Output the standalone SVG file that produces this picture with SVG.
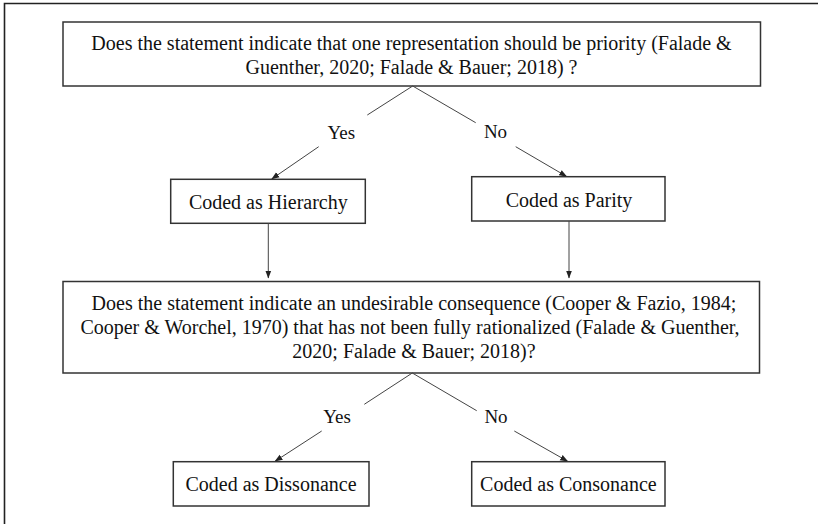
<svg xmlns="http://www.w3.org/2000/svg" width="818" height="524" viewBox="0 0 818 524">
<defs>
<style>
.box{fill:#fff;stroke:#333;stroke-width:1.5}
.t{font-size:20px;fill:#111;text-anchor:middle}
.lbl{font-size:19px;fill:#111;text-anchor:middle}
.c{stroke:#444;stroke-width:1;fill:none}
</style>
<marker id="ah" markerUnits="userSpaceOnUse" markerWidth="8" markerHeight="8" viewBox="0 0 8 8" refX="7.5" refY="4" orient="auto">
<path d="M0,1 L8,4 L0,7 Z" fill="#222"/>
</marker>
</defs>
<rect width="818" height="524" fill="#fff"/>
<path d="M4.5,524 V3.5 H818" fill="none" stroke="#222" stroke-width="1.6"/>
<g font-family="'Liberation Serif', 'Times New Roman', 'DejaVu Serif', serif">
<g id="q1">
<rect class="box" x="63" y="22" width="697.5" height="64"/>
<text class="t" x="411.5" y="50">Does the statement indicate that one representation should be priority (Falade &amp;</text>
<text class="t" x="411.5" y="73.5">Guenther, 2020; Falade &amp; Bauer; 2018) ?</text>
</g>
<g id="hierarchy">
<rect class="box" x="170.7" y="179.3" width="194.6" height="44"/>
<text class="t" x="268.3" y="209">Coded as Hierarchy</text>
</g>
<g id="parity">
<rect class="box" x="471.7" y="176.7" width="193.3" height="44.3"/>
<text class="t" x="569" y="207">Coded as Parity</text>
</g>
<g id="q2">
<rect class="box" x="63" y="281.5" width="696.5" height="91.5"/>
<text class="t" x="414" y="310">Does the statement indicate an undesirable consequence (Cooper &amp; Fazio, 1984;</text>
<text class="t" x="410" y="334">Cooper &amp; Worchel, 1970) that has not been fully rationalized (Falade &amp; Guenther,</text>
<text class="t" x="414" y="358">2020; Falade &amp; Bauer; 2018)?</text>
</g>
<g id="dissonance">
<rect class="box" x="173.3" y="461.7" width="195.7" height="44.3"/>
<text class="t" x="271" y="491">Coded as Dissonance</text>
</g>
<g id="consonance">
<rect class="box" x="471.7" y="461.7" width="193.3" height="44.3"/>
<text class="t" x="568.4" y="491">Coded as Consonance</text>
</g>
<g id="connectors">
<line class="c" x1="412.7" y1="86" x2="367.3" y2="115"/>
<line class="c" x1="412.7" y1="86" x2="475.7" y2="122.7"/>
<text class="lbl" x="341.3" y="138.5">Yes</text>
<text class="lbl" x="495.5" y="138">No</text>
<line class="c" x1="318.7" y1="146.7" x2="271.7" y2="179" marker-end="url(#ah)"/>
<line class="c" x1="515.7" y1="146.7" x2="566.7" y2="176.5" marker-end="url(#ah)"/>
<line class="c" x1="268.3" y1="223.3" x2="268.3" y2="278" marker-end="url(#ah)"/>
<line class="c" x1="569" y1="221" x2="569" y2="278" marker-end="url(#ah)"/>
<line class="c" x1="412.3" y1="373" x2="364.3" y2="404.3"/>
<line class="c" x1="412.3" y1="373" x2="476.7" y2="410.7"/>
<text class="lbl" x="337" y="423">Yes</text>
<text class="lbl" x="496" y="423">No</text>
<line class="c" x1="321.7" y1="431" x2="275" y2="461.3" marker-end="url(#ah)"/>
<line class="c" x1="514.3" y1="431" x2="567.7" y2="461.3" marker-end="url(#ah)"/>
</g>
</g>
</svg>
